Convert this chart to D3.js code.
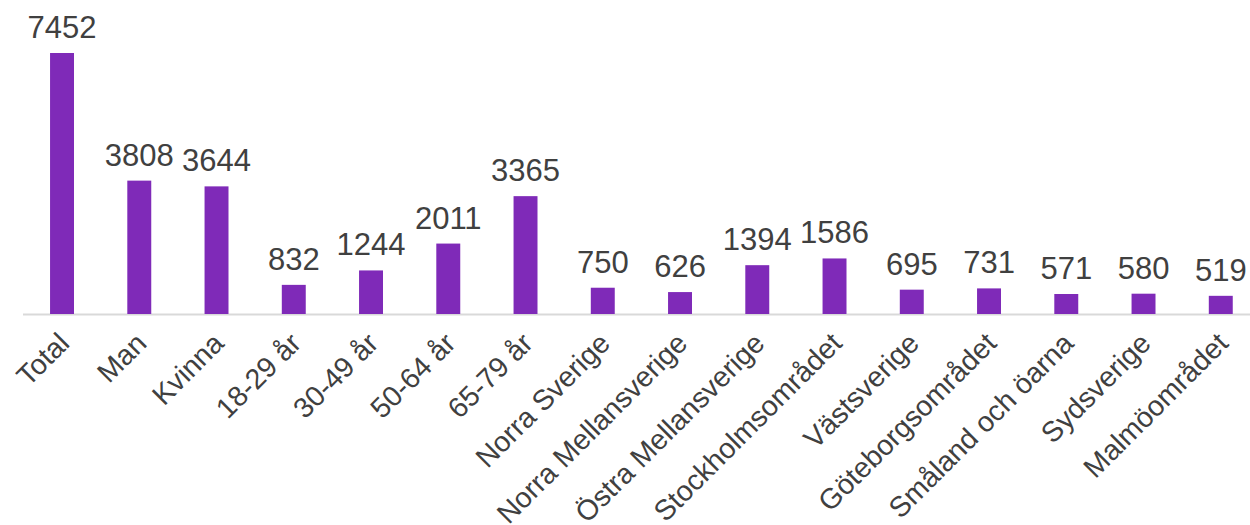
<!DOCTYPE html>
<html><head><meta charset="utf-8">
<script src="https://cdn.jsdelivr.net/npm/d3@7"></script>
<style>body{margin:0;background:#fff}svg{display:block}text{font-family:"Liberation Sans",Arial,sans-serif;fill:#404040}</style>
</head><body>
<svg id="c" width="1250" height="525"></svg>
<script>
const categories = ["Total","Man","Kvinna","18-29 år","30-49 år","50-64 år","65-79 år","Norra Sverige","Norra Mellansverige","Östra Mellansverige","Stockholmsområdet","Västsverige","Göteborgsområdet","Småland och öarna","Sydsverige","Malmöområdet"];
const values = [7452,3808,3644,832,1244,2011,3365,750,626,1394,1586,695,731,571,580,519];

const svg = d3.select("#c");
const baseY = 314;
const x = d3.scaleBand().domain(categories).range([23.4, 1259.4]).paddingInner(0.69).paddingOuter(0.345);
const y = d3.scaleLinear().domain([0, 7452]).range([baseY, 53]);

svg.append("line").attr("x1", 23).attr("x2", 1250).attr("y1", baseY + 0.5).attr("y2", baseY + 0.5)
  .attr("stroke", "#d9d9d9").attr("stroke-width", 2);

svg.selectAll("rect.bar").data(values).enter().append("rect")
  .attr("class", "bar")
  .attr("x", (d, i) => x(categories[i]))
  .attr("width", x.bandwidth())
  .attr("y", d => y(d))
  .attr("height", d => baseY - y(d))
  .attr("fill", "#7F2AB8");

svg.selectAll("text.val").data(values).enter().append("text")
  .attr("class", "val")
  .attr("x", (d, i) => x(categories[i]) + x.bandwidth() / 2)
  .attr("y", d => y(d) - 15)
  .attr("text-anchor", "middle")
  .attr("font-size", 31)
  .text(d => d);

const xAxis = d3.axisBottom(x).tickSize(0).tickPadding(0);
const g = svg.append("g").attr("transform", `translate(0,${baseY})`).call(xAxis);
g.select(".domain").remove();
g.selectAll("text")
  .attr("font-size", 28.5)
  .attr("fill", "#404040")
  .attr("font-family", "Liberation Sans, Arial, sans-serif")
  .attr("text-anchor", "end")
  .attr("dy", null)
  .attr("y", 0)
  .attr("transform", "translate(9,31) rotate(-45)");
</script>
</body></html>
